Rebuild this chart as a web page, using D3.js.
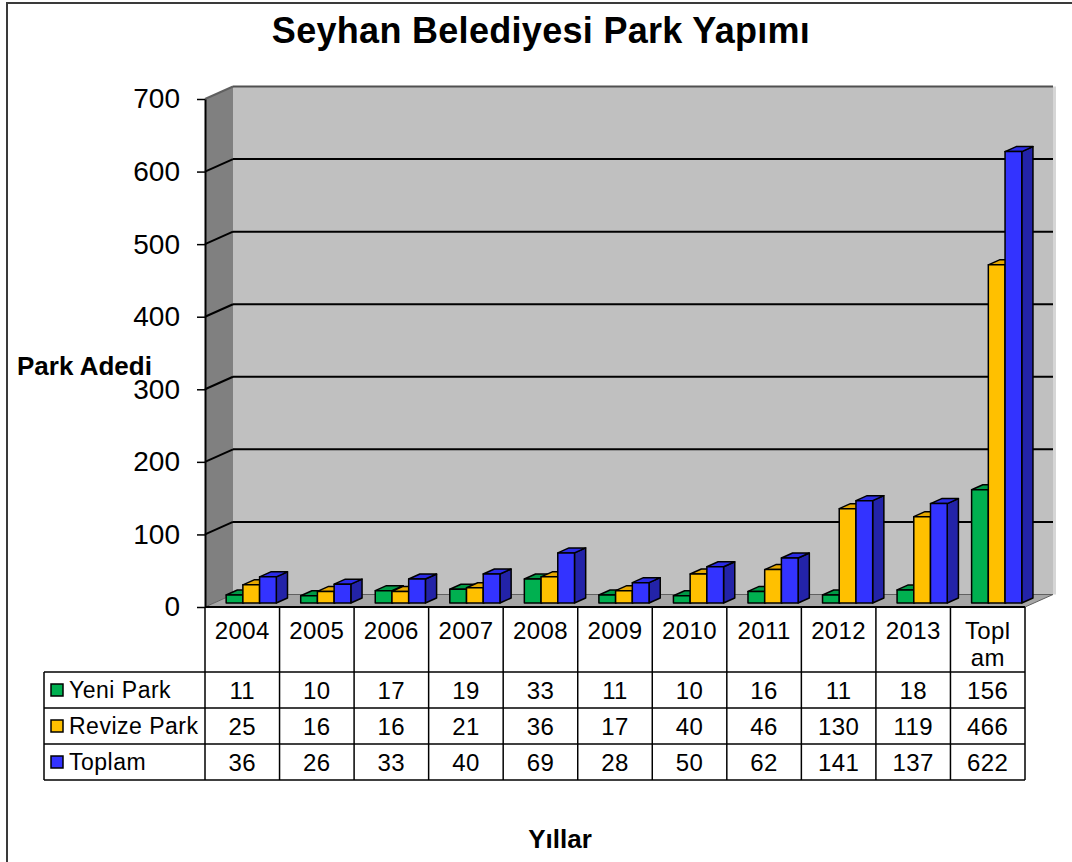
<!DOCTYPE html>
<html>
<head>
<meta charset="utf-8">
<script src="https://cdn.jsdelivr.net/npm/d3@7"></script>
<style>
  body { margin: 0; background: #fff; }
  text { font-family: "Liberation Sans", Arial, sans-serif; }
</style>
</head>
<body>
<script>
const categories = ["2004", "2005", "2006", "2007", "2008", "2009", "2010", "2011", "2012", "2013", "Toplam"];
const seriesNames = ["Yeni Park", "Revize Park", "Toplam"];
const yeniPark = [11, 10, 17, 19, 33, 11, 10, 16, 11, 18, 156];
const revizePark = [25, 16, 16, 21, 36, 17, 40, 46, 130, 119, 466];
const toplam = [36, 26, 33, 40, 69, 28, 50, 62, 141, 137, 622];
const yTicks = [0, 100, 200, 300, 400, 500, 600, 700];

const seriesValues = [yeniPark, revizePark, toplam];
// front, top, side
const colors = [
  ["#00b050", "#009a46", "#007a38"],
  ["#ffc000", "#e6a800", "#b88a00"],
  ["#3333ff", "#2b2be6", "#2323a8"]
];

const W = 1072, H = 862;
const DX = 28, DY = 12.5;      // depth of the walls
const z0 = 0.32, z1 = 0.72;    // bar depth range

const svg = d3.select("body").append("svg")
  .attr("width", W)
  .attr("height", H);

const x = d3.scaleBand().domain(categories).range([205, 1025]);
const xs = d3.scaleBand().domain(seriesNames).range([0, x.bandwidth()]).paddingOuter(0.73);
const y = d3.scaleLinear().domain([0, 700]).range([607, 99]);

const left = x.range()[0], right = x.range()[1];
const pts = a => a.map(p => p.join(",")).join(" ");

// outer frame
svg.append("path")
  .attr("d", `M7,${H} V3 H${W}`)
  .attr("fill", "none")
  .attr("stroke", "#3a3a3a")
  .attr("stroke-width", 2);

// title
svg.append("text")
  .attr("x", 541)
  .attr("y", 43)
  .attr("text-anchor", "middle")
  .attr("font-size", 36)
  .attr("font-weight", "bold")
  .attr("letter-spacing", 0.3)
  .text("Seyhan Belediyesi Park Yapımı");

// back wall
svg.append("rect")
  .attr("x", left + DX)
  .attr("y", y(700) - DY)
  .attr("width", right - left)
  .attr("height", y(0) - y(700))
  .attr("fill", "#c0c0c0");

svg.append("line")
  .attr("x1", right + DX + 1.5).attr("x2", right + DX + 1.5)
  .attr("y1", y(700) - DY).attr("y2", y(0) - DY)
  .attr("stroke", "#d6d6d6")
  .attr("stroke-width", 3);

// side wall
svg.append("polygon")
  .attr("points", pts([[left, y(700)], [left + DX, y(700) - DY], [left + DX, y(0) - DY], [left, y(0)]]))
  .attr("fill", "#808080");

// floor
svg.append("polygon")
  .attr("points", pts([[left, y(0)], [right, y(0)], [right + DX, y(0) - DY], [left + DX, y(0) - DY]]))
  .attr("fill", "#a6a6a6")
  .attr("stroke", "#606060")
  .attr("stroke-width", 1);

// gridlines
yTicks.filter(v => v > 0).forEach(v => {
  const c = v === 700 ? "#505050" : "#000";
  svg.append("line")
    .attr("x1", left + DX).attr("x2", right + DX)
    .attr("y1", y(v) - DY).attr("y2", y(v) - DY)
    .attr("stroke", c).attr("stroke-width", 2);
  svg.append("line")
    .attr("x1", left).attr("x2", left + DX)
    .attr("y1", y(v)).attr("y2", y(v) - DY)
    .attr("stroke", v === 700 ? "#606060" : "#000").attr("stroke-width", 2);
});

// bars
categories.forEach((cat, i) => {
  seriesNames.forEach((s, j) => {
    const v = seriesValues[j][i];
    const w = xs.bandwidth();
    const x0 = x(cat) + xs(s) + z0 * DX;
    const x1 = x0 + w;
    const yt = y(v) - z0 * DY;
    const yb = y(0) - z0 * DY;
    const ddx = (z1 - z0) * DX, ddy = (z1 - z0) * DY;
    const g = svg.append("g")
      .attr("stroke", "#000")
      .attr("stroke-width", 1.5)
      .attr("stroke-linejoin", "round");
    g.append("polygon")
      .attr("points", pts([[x1, yt], [x1 + ddx, yt - ddy], [x1 + ddx, yb - ddy], [x1, yb]]))
      .attr("fill", colors[j][2]);
    g.append("polygon")
      .attr("points", pts([[x0, yt], [x1, yt], [x1 + ddx, yt - ddy], [x0 + ddx, yt - ddy]]))
      .attr("fill", colors[j][1]);
    g.append("rect")
      .attr("x", x0).attr("y", yt)
      .attr("width", w).attr("height", yb - yt)
      .attr("fill", colors[j][0]);
  });
});

// y axis
svg.append("g")
  .attr("transform", `translate(${left},0)`)
  .call(d3.axisLeft(y).tickValues(yTicks).tickSize(8).tickSizeOuter(0).tickPadding(17))
  .call(g => g.select(".domain").attr("stroke", "#000").attr("stroke-width", 2))
  .call(g => g.selectAll(".tick line").attr("stroke", "#000").attr("stroke-width", 1.5))
  .call(g => g.selectAll(".tick text")
    .attr("font-size", 28)
    .attr("fill", "#000")
    .attr("font-family", "'Liberation Sans', Arial, sans-serif"));

svg.append("text")
  .attr("x", 17)
  .attr("y", 375)
  .attr("font-size", 26)
  .attr("font-weight", "bold")
  .text("Park Adedi");

// data table
const headTop = y(0), headBot = 672, rowH = 36;
const tableLeft = 44;
const rowsBot = headBot + rowH * seriesNames.length;
const lineC = "#000";

svg.append("line")
  .attr("x1", left).attr("x2", right)
  .attr("y1", headTop).attr("y2", headTop)
  .attr("stroke", lineC).attr("stroke-width", 2);

const bounds = categories.map(c => x(c)).concat([right]);
bounds.forEach(b => {
  svg.append("line")
    .attr("x1", b).attr("x2", b)
    .attr("y1", headTop).attr("y2", rowsBot)
    .attr("stroke", lineC).attr("stroke-width", 1.5);
});
svg.append("line")
  .attr("x1", tableLeft).attr("x2", tableLeft)
  .attr("y1", headBot).attr("y2", rowsBot)
  .attr("stroke", lineC).attr("stroke-width", 1.5);

d3.range(seriesNames.length + 1).forEach(k => {
  svg.append("line")
    .attr("x1", tableLeft).attr("x2", right)
    .attr("y1", headBot + k * rowH).attr("y2", headBot + k * rowH)
    .attr("stroke", lineC).attr("stroke-width", 1.5);
});

// header labels
categories.forEach(c => {
  const lines = c.length > 5 ? [c.slice(0, 4), c.slice(4)] : [c];
  const t = svg.append("text")
    .attr("x", x(c) + x.bandwidth() / 2)
    .attr("y", 639)
    .attr("text-anchor", "middle")
    .attr("font-size", 24)
    .attr("letter-spacing", 0.4);
  lines.forEach((l, k) => {
    t.append("tspan")
      .attr("x", x(c) + x.bandwidth() / 2)
      .attr("dy", k === 0 ? 0 : 27)
      .text(l);
  });
});

// rows
seriesNames.forEach((s, j) => {
  const cy = headBot + j * rowH + rowH / 2;
  svg.append("rect")
    .attr("x", 51).attr("y", cy - 6)
    .attr("width", 12).attr("height", 12)
    .attr("fill", colors[j][0])
    .attr("stroke", "#000")
    .attr("stroke-width", 1.5);
  svg.append("text")
    .attr("x", 69)
    .attr("y", cy + 8)
    .attr("font-size", 23)
    .attr("letter-spacing", 0.5)
    .text(s);
  categories.forEach((c, i) => {
    svg.append("text")
      .attr("x", x(c) + x.bandwidth() / 2)
      .attr("y", cy + 8.5)
      .attr("text-anchor", "middle")
      .attr("font-size", 24)
      .attr("letter-spacing", 0.4)
      .text(seriesValues[j][i]);
  });
});

svg.append("text")
  .attr("x", 560)
  .attr("y", 848)
  .attr("text-anchor", "middle")
  .attr("font-size", 26)
  .attr("font-weight", "bold")
  .text("Yıllar");
</script>
</body>
</html>
